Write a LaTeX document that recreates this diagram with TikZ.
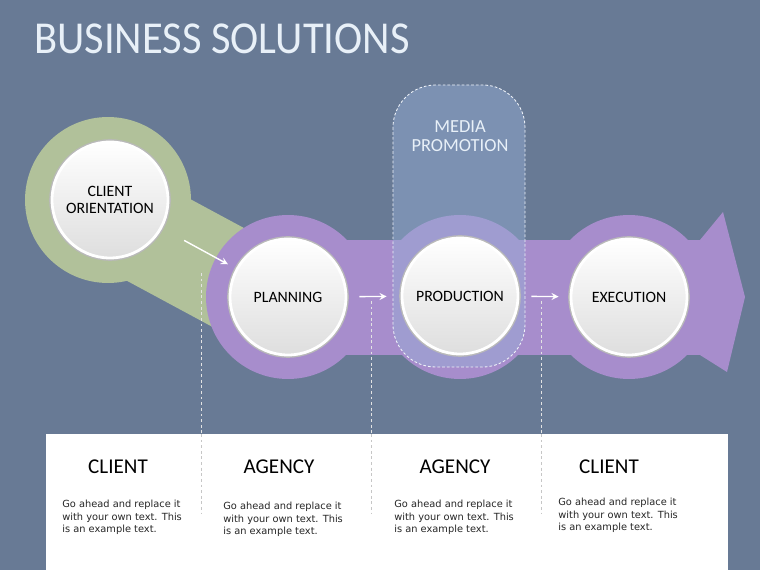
\documentclass[tikz,border=0pt]{standalone}
\usepackage{fontspec}
\usetikzlibrary{shapes,arrows,positioning,calc}
\setmainfont{DejaVu Sans}
\newfontfamily\headfont{Carlito}
\newfontfamily\titlefont[FakeStretch=0.93]{Carlito}

\definecolor{slate}{RGB}{104,122,149}
\definecolor{sage}{RGB}{177,193,154}
\definecolor{lilac}{RGB}{167,141,204}
\definecolor{mediablue}{RGB}{150,175,215}
\definecolor{paleblue}{RGB}{232,240,248}

\begin{document}
\begin{tikzpicture}[x=0.02cm, y=-0.02cm,
  stage/.style={circle, minimum size=2.32cm, inner sep=0pt, draw=white, line width=1.6pt,
    top color=white, bottom color=gray!26, preaction={draw=gray!55, line width=3.2pt},
    font=\headfont\fontsize{9}{9.8}\selectfont, align=center, text=black},
  flow/.style={->, >=stealth, draw=white, line width=0.8pt},
  divider/.style={draw=white!78!gray, line width=0.4pt, dash pattern=on 1.6pt off 1.6pt},
  heading/.style={draw=none, font=\headfont\fontsize{12}{13}\selectfont, text=black},
  body/.style={draw=none, anchor=north west, inner sep=0pt, align=left,
    font=\fontsize{5.6}{7.1}\selectfont, text=black!85}]

% Background
\useasboundingbox (0,0) rectangle (760,570);
\fill[slate] (0,0) rectangle (760,570);

% Title
\node[draw=none, anchor=west, inner sep=0pt, text=paleblue,
  font=\titlefont\fontsize{26}{29}\selectfont] (title) at (34,39) {BUSINESS SOLUTIONS};

% Green band and ring
\draw[sage, line width=2.04cm] (103,210) -- (283,307);
\fill[sage] (108,200) circle[radius=1.66cm];

% Purple arrow band
\fill[lilac] (288,240) rectangle (724,355);
\fill[lilac] (723,212) -- (745,297) -- (727,372) -- (700,355) -- (700,240) -- cycle;
\foreach \cx in {288,460,629}
  \fill[lilac] (\cx,297) circle[radius=1.64cm];

% Media promotion box
\draw[fill=mediablue, fill opacity=0.45, draw=white!85!mediablue, line width=0.5pt,
  dash pattern=on 1.5pt off 1.2pt, rounded corners=0.85cm] (393,85) rectangle (525,367);
\node[draw=none, align=center, text=paleblue,
  font=\headfont\fontsize{10.5}{11}\selectfont] (media) at (460,136) {MEDIA\\PROMOTION};

% Stages
\node[stage] (orient) at (110,200) {CLIENT\\ORIENTATION};
\node[stage] (plan) at (288,297) {PLANNING};
\node[stage] (prod) at (460,296) {PRODUCTION};
\node[stage] (exec) at (629,297) {EXECUTION};

% Arrows between stages
\draw[flow, shorten <=0.5cm, shorten >=0.18cm] (orient) -- (plan);
\draw[flow, shorten <=0.24cm, shorten >=0.28cm] (plan) -- (prod);
\draw[flow, shorten <=0.24cm, shorten >=0.22cm] (prod) -- (exec);

% Column dividers
\draw[divider] (201,273) -- (201,513);
\foreach \dx in {371,541}
  \draw[divider] (\dx,301) -- (\dx,513);

% Text panel
\fill[white] (46,434) rectangle (728,570);
\foreach \dx in {201,371,541}
  \draw[divider, draw=gray!45] (\dx,434) -- (\dx,513);

\node[heading] (who1) at (118,467) {CLIENT};
\node[heading] (who2) at (279,467) {AGENCY};
\node[heading] (who3) at (455,467) {AGENCY};
\node[heading] (who4) at (609,467) {CLIENT};

\node[body] (txt1) at (62,500) {Go ahead and replace it\\with your own text. This\\is an example text.};
\node[body] (txt2) at (223,502) {Go ahead and replace it\\with your own text. This\\is an example text.};
\node[body] (txt3) at (394,500) {Go ahead and replace it\\with your own text. This\\is an example text.};
\node[body] (txt4) at (558,498) {Go ahead and replace it\\with your own text. This\\is an example text.};

\end{tikzpicture}
\end{document}
